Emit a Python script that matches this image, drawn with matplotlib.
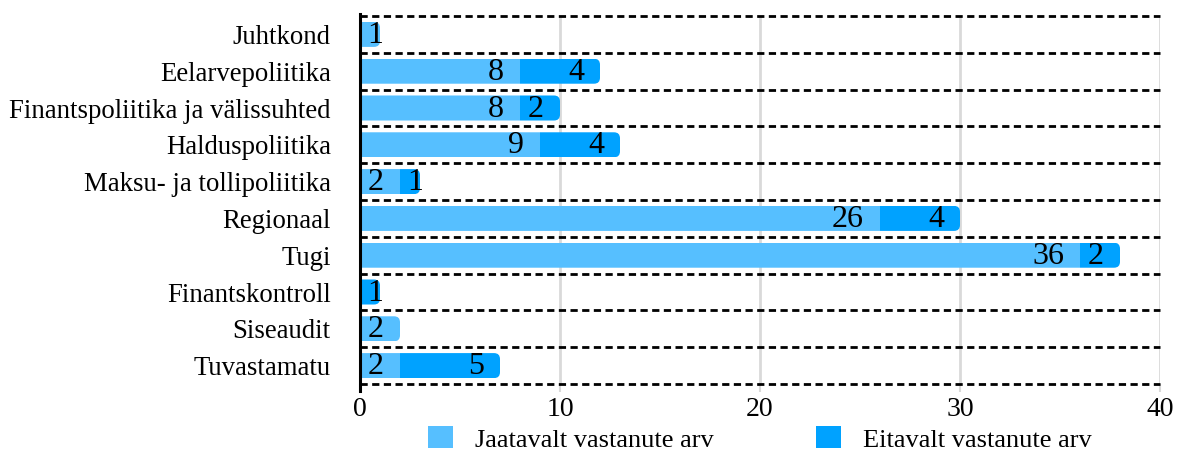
import matplotlib
matplotlib.use("Agg")
import matplotlib.pyplot as plt
from matplotlib.patches import FancyBboxPatch, Patch

plt.rcParams['font.family'] = ['Liberation Serif', 'DejaVu Serif']

categories = ["Juhtkond", "Eelarvepoliitika", "Finantspoliitika ja välissuhted",
              "Halduspoliitika", "Maksu- ja tollipoliitika", "Regionaal", "Tugi",
              "Finantskontroll", "Siseaudit", "Tuvastamatu"]
yes_counts = [1, 8, 8, 9, 2, 26, 36, 0, 2, 2]
no_counts = [0, 4, 2, 4, 1, 4, 2, 1, 0, 5]
series_names = ["Jaatavalt vastanute arv", "Eitavalt vastanute arv"]
colors = ["#56BFFF", "#00A2FF"]
x_ticks = [0, 10, 20, 30, 40]

W, H = 1183, 450
fig = plt.figure(figsize=(W / 100, H / 100), dpi=100)
ax = fig.add_axes([360 / W, 66 / H, 800 / W, 368 / H])

n = len(categories)
ys = list(range(n))
bar_h = 0.68
ax.set_xlim(0, 40)
ax.set_ylim(n - 0.5, -0.5)

# px -> data unit conversions (fixed layout)
px_x = 40 / 800.0
px_y = n / 368.0
radius = 6 * px_x
aspect = (6 * px_y) / radius

series = [yes_counts, no_counts]
for i, y in enumerate(ys):
    total = yes_counts[i] + no_counts[i]
    clip = FancyBboxPatch((-2, y - bar_h / 2), total + 2, bar_h,
                          boxstyle=f"round,pad=0,rounding_size={radius}",
                          mutation_aspect=aspect, transform=ax.transData)
    left = 0
    for s, vals in enumerate(series):
        v = vals[i]
        if v <= 0:
            continue
        bars = ax.barh(y, v, left=left, height=bar_h, color=colors[s],
                       linewidth=0, zorder=3)
        for b in bars:
            b.set_clip_path(clip)
        # value label near the segment end
        txt = str(v)
        tw = 0.8 * len(txt)
        xr = max(left + v - 0.8, left + tw + 0.35)
        ax.text(xr, y + 0.03, txt, ha="right", va="center", fontsize=23,
                color="black", zorder=5)
        left += v

# dashed separators between categories
for b in [k - 0.5 for k in range(n + 1)]:
    ax.axhline(b, color="black", linewidth=2.0, linestyle=(0, (2.6, 1.6)),
               zorder=4, clip_on=False)

# vertical grid
for xt in x_ticks[1:]:
    ax.axvline(xt, color="#d9d9d9", linewidth=2, zorder=1)

for sp in ["top", "right", "bottom"]:
    ax.spines[sp].set_visible(False)
ax.spines["left"].set_color("black")
ax.spines["left"].set_linewidth(2.2)
ax.spines["left"].set_zorder(6)
ax.spines["left"].set_bounds(n - 0.5 + 0.2, -0.5 - 0.05)

ax.set_yticks(ys)
ax.set_yticklabels(categories, fontsize=19.3)
ax.tick_params(axis="y", length=0, pad=21)
ax.set_xticks(x_ticks)
ax.set_xticklabels([str(t) for t in x_ticks], fontsize=20)
ax.tick_params(axis="x", length=6, width=1.5, color="#d9d9d9", pad=3)

handles = [Patch(facecolor=c, edgecolor="none") for c in colors]
fig.legend(handles, series_names, loc="center", ncol=2,
           bbox_to_anchor=(760 / W, 1 - 439 / H), frameon=False,
           fontsize=19, handlelength=0.95, handleheight=0.9,
           handletextpad=0.83, columnspacing=3.86, borderaxespad=0,
           borderpad=0)

fig.savefig("out.png", dpi=100)
